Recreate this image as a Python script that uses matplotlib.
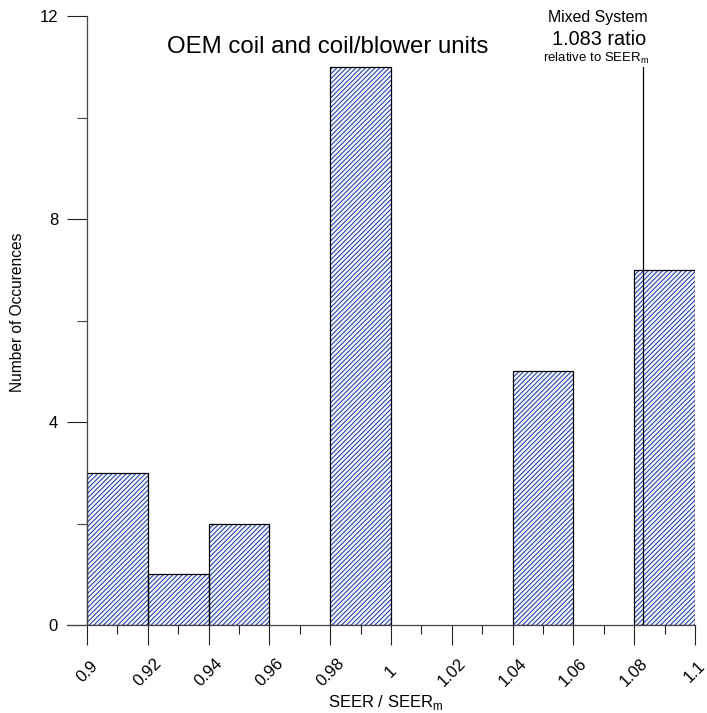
import matplotlib
matplotlib.use("Agg")
import matplotlib.pyplot as plt
from matplotlib.ticker import MultipleLocator, FuncFormatter

plt.rcParams['font.family'] = ['Liberation Sans', 'DejaVu Sans']
plt.rcParams['hatch.linewidth'] = 0.85

bin_left = [0.90, 0.92, 0.94, 0.98, 1.04, 1.08]
counts = [3, 1, 2, 11, 5, 7]
bin_width = 0.02
mixed_ratio = 1.083
mixed_height = 11

W, H = 707, 713
fig = plt.figure(figsize=(W/100, H/100), dpi=100)
ax = fig.add_axes([67/W, 1-625/H, (695-67)/W, (625-16)/H])

hatch_col = '#2a4bb0'
ax.bar(bin_left, counts, width=bin_width, align='edge', facecolor='white',
       edgecolor=hatch_col, linewidth=0, hatch='///////')
ax.bar(bin_left, counts, width=bin_width, align='edge', fill=False,
       edgecolor='black', linewidth=0.9)
ax.plot([mixed_ratio, mixed_ratio], [0, mixed_height], color='black', lw=0.9)

ax.set_xlim(0.8934, 1.1)
ax.set_ylim(0, 12)
ax.spines['left'].set_position(('data', 0.9))
ax.spines['right'].set_visible(False)
ax.spines['top'].set_visible(False)
for s in ('left', 'bottom'):
    ax.spines[s].set_color('#444444')
    ax.spines[s].set_linewidth(0.9)

ax.xaxis.set_major_locator(MultipleLocator(0.02))
ax.xaxis.set_minor_locator(MultipleLocator(0.01))
ax.yaxis.set_major_locator(MultipleLocator(4))
ax.yaxis.set_minor_locator(MultipleLocator(2))
ax.xaxis.set_major_formatter(FuncFormatter(lambda v, p: f"{v:.2f}".rstrip('0').rstrip('.')))
ax.tick_params(axis='x', which='major', length=14.4, width=0.8, direction='out',
               labelsize=12, pad=19.4, colors='#222222', labelcolor='black')
ax.tick_params(axis='x', which='minor', length=6.5, width=0.8, direction='out', colors='#222222')
ax.tick_params(axis='y', which='major', length=14.4, width=0.8, direction='out',
               labelsize=12, pad=6.5, colors='#222222', labelcolor='black')
ax.tick_params(axis='y', which='minor', length=7.2, width=0.8, direction='out', colors='#444444')
for lab in ax.get_xticklabels():
    lab.set_rotation(45)
    lab.set_ha('center')
    lab.set_va('center')

fig.text(386/W, 1-707/H, 'SEER / SEER$_\\mathregular{m}$', fontsize=12,
         ha='center', va='baseline')
fig.text(18/W, 1-312/H, 'Number of Occurences', fontsize=11.2, rotation=90,
         ha='center', va='center')

fig.text(328/W, 1-53/H, 'OEM coil and coil/blower units', fontsize=17.3,
         ha='center', va='baseline')
fig.text(598/W, 1-22/H, 'Mixed System', fontsize=11.4, ha='center', va='baseline')
fig.text(599/W, 1-45/H, '1.083 ratio', fontsize=14.3, ha='center', va='baseline')
fig.text(596/W, 1-62/H, 'relative to SEER$_\\mathregular{m}$', fontsize=9.5,
         ha='center', va='baseline')

fig.savefig('out.png', dpi=100)
